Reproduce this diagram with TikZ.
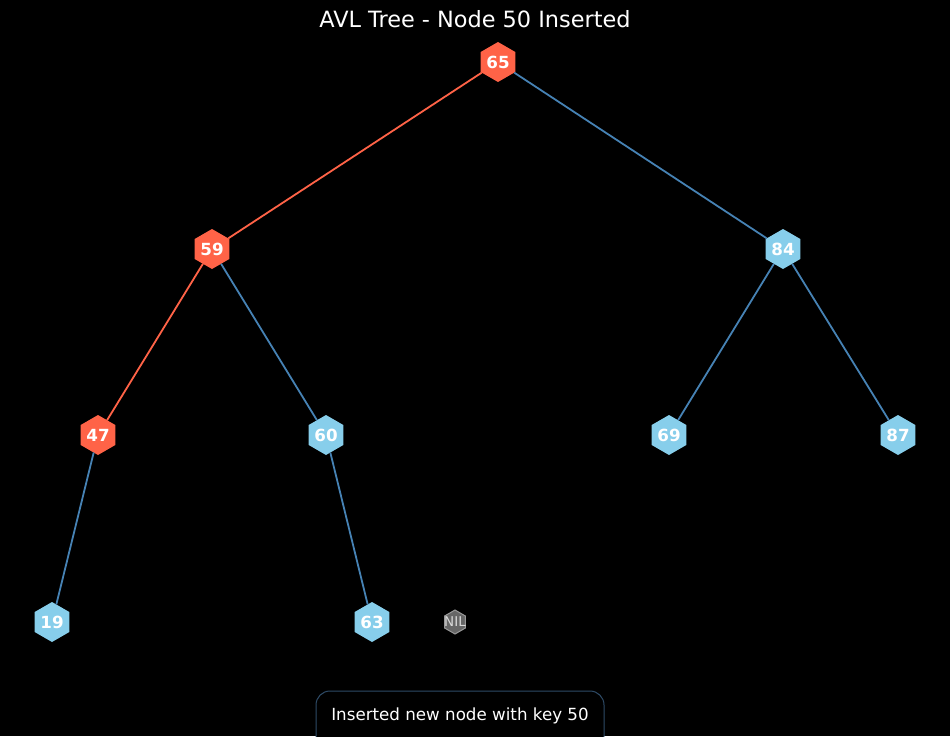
\documentclass[tikz,border=0pt]{standalone}
\usepackage{fontspec}
\setmainfont{DejaVu Sans}
\usetikzlibrary{shapes.geometric}
\definecolor{tomato}{HTML}{FF6347}
\definecolor{skyb}{HTML}{87CEEB}
\definecolor{steel}{HTML}{4682B4}
\definecolor{nilfill}{HTML}{666666}
\definecolor{nilline}{HTML}{999999}
\definecolor{boxline}{HTML}{2E4A66}
\tikzset{
  hexnode/.style={regular polygon, regular polygon sides=6, shape border rotate=30,
    minimum size=40pt, inner sep=0pt, outer sep=0pt, draw=none, text=white,
    font=\fontsize{16.7pt}{18pt}\selectfont\bfseries},
  rednode/.style={hexnode, fill=tomato},
  bluenode/.style={hexnode, fill=skyb},
  nilnode/.style={regular polygon, regular polygon sides=6, shape border rotate=30,
    minimum size=24pt, inner sep=0pt, outer sep=0pt, fill=nilfill, draw=nilline, line width=1pt},
  niltext/.style={inner sep=0pt, text=white!85!black, font=\fontsize{13.5pt}{14pt}\selectfont},
  rededge/.style={draw=tomato, line width=1.8pt},
  blueedge/.style={draw=steel, line width=1.8pt},
}
\begin{document}
\begin{tikzpicture}[x=1pt,y=-1pt]
\fill[black] (0,0) rectangle (950,736);
\useasboundingbox (0,0) rectangle (950,736);
\node[text=white, font=\fontsize{22.4pt}{26pt}\selectfont] (title) at (475,19) {AVL Tree - Node 50 Inserted};
\node[rednode] (n65) at (498,62) {65};
\node[rednode] (n59) at (212,249) {59};
\node[bluenode] (n84) at (783,249) {84};
\node[rednode] (n47) at (98,435) {47};
\node[bluenode] (n60) at (326,435) {60};
\node[bluenode] (n69) at (669,435) {69};
\node[bluenode] (n87) at (898,435) {87};
\node[bluenode] (n19) at (52,622) {19};
\node[bluenode] (n63) at (372,622) {63};
\node[nilnode] (nil) at (455,622) {};
\node[niltext] (niltxt) at (nil.center) {NIL};
\draw[rededge] (n65) -- (n59);
\draw[blueedge] (n65) -- (n84);
\draw[rededge] (n59) -- (n47);
\draw[blueedge] (n59) -- (n60);
\draw[blueedge] (n84) -- (n69);
\draw[blueedge] (n84) -- (n87);
\draw[blueedge] (n47) -- (n19);
\draw[blueedge] (n60) -- (n63);
\draw[draw=boxline, line width=1pt, rounded corners=14pt, fill=black] (316,691) rectangle (604,750);
\node[text=white, font=\fontsize{16.7pt}{18pt}\selectfont] (msg) at (460,716) {Inserted new node with key 50};
\end{tikzpicture}
\end{document}
